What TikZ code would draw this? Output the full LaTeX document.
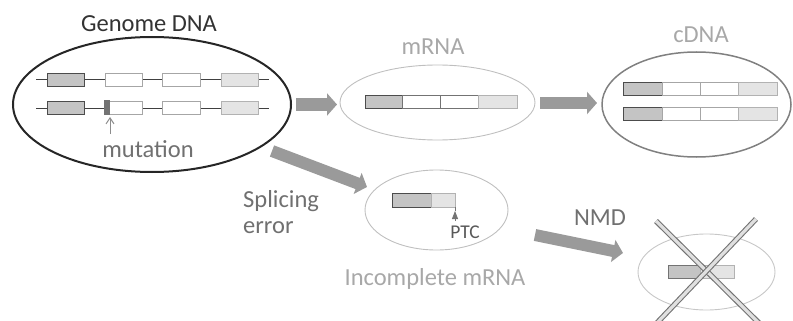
\documentclass[tikz,border=0pt]{standalone}
\usepackage{fontspec}
\setmainfont{Carlito}
\usetikzlibrary{shapes.geometric,arrows.meta}

\definecolor{txtdark}{HTML}{333333}
\definecolor{txtmid}{HTML}{707070}
\definecolor{txtlight}{HTML}{A8A8A8}
\definecolor{arrowgray}{HTML}{9A9A9A}
\definecolor{exonfill}{HTML}{C4C4C4}
\definecolor{exonlast}{HTML}{E4E4E4}

\begin{document}
\begin{tikzpicture}[x=1pt,y=-1pt,
  lbl/.style={font=\fontsize{24.5}{28}\selectfont, inner sep=0, anchor=base},
  oval/.style={ellipse, inner sep=0, outer sep=0},
  blockarr/.style={draw=arrowgray, line width=12pt,
    -{Triangle[length=10pt,width=22pt]}},
  exonA/.style={draw=black!70, fill=exonfill, line width=0.8pt},
  exonB/.style={draw=black!35, fill=white, line width=0.8pt},
  exonC/.style={draw=black!30, fill=exonlast, line width=0.8pt},
  crossline/.style={draw=black!55, line width=1.1pt, double=black!12, double distance=3.2pt}
]
\useasboundingbox (0,0) rectangle (793,321);

% ---- containers ----
\node[oval, draw=black!85, line width=2pt, minimum width=278pt, minimum height=135pt] (genome) at (152,104.5) {};
\node[oval, draw=black!25, line width=0.9pt, minimum width=195pt, minimum height=75pt] (mrna) at (437.5,102.5) {};
\node[oval, draw=black!50, line width=1.5pt, minimum width=189pt, minimum height=105pt] (cdna) at (696.5,104.5) {};
\node[oval, draw=black!25, line width=0.9pt, minimum width=143pt, minimum height=80pt] (inc) at (436.5,210) {};
\node[oval, draw=black!22, line width=0.9pt, minimum width=137pt, minimum height=76pt] (nmd) at (706.5,272) {};

% ---- titles and labels ----
\node[lbl, text=txtdark] (tgenome) at (149,32) {Genome DNA};
\node[lbl, text=txtmid] (tmut) at (148,157) {mutation};
\node[lbl, text=txtlight] (tmrna) at (433,55) {mRNA};
\node[lbl, text=txtlight] (tcdna) at (701,43) {cDNA};
\node[lbl, text=txtmid, anchor=base west] (tsplice) at (243,207) {Splicing};
\node[lbl, text=txtmid, anchor=base west] (terror) at (243,233) {error};
\node[lbl, text=txtlight] (tinc) at (435,285) {Incomplete mRNA};
\node[lbl, text=txtmid] (tnmd) at (600,225) {NMD};
\node[lbl, text=black!65, font=\fontsize{19.5}{22}\selectfont] (tptc) at (465,238) {PTC};

% ---- genomic DNA: two alleles ----
\foreach \y in {80,108} {
  \draw[black!75, line width=1pt] (36,\y) -- (269,\y);
  \draw[exonA] (47,\y-6.5) rectangle (84,\y+6.5);
  \draw[exonB] (105,\y-6.5) rectangle (142,\y+6.5);
  \draw[exonB] (162,\y-6.5) rectangle (200,\y+6.5);
  \draw[exonC] (221,\y-6.5) rectangle (258,\y+6.5);
}
% mutated site
\fill[black!55] (104,100.5) rectangle (110,115);
\coordinate (mutfoot) at (110,134);
\coordinate (muthead) at (110,117);
\draw[black!45, line width=1pt, -{Straight Barb[length=6pt,width=8pt]}] (mutfoot) -- (muthead);

% ---- mature mRNA ----
\draw[exonA] (365,95) rectangle (402,108.5);
\draw[exonB, draw=black!55] (402,95) rectangle (440,108.5);
\draw[exonB, draw=black!55] (440,95) rectangle (478,108.5);
\draw[exonC] (478,95) rectangle (517,108.5);

% ---- cDNA, two copies ----
\foreach \y in {88.5,113.5} {
  \draw[exonA] (623,\y-6.5) rectangle (662,\y+6.5);
  \draw[exonB] (662,\y-6.5) rectangle (700,\y+6.5);
  \draw[exonB] (700,\y-6.5) rectangle (738,\y+6.5);
  \draw[exonC] (738,\y-6.5) rectangle (777,\y+6.5);
}

% ---- incomplete mRNA with premature stop codon ----
\draw[exonA] (392,193) rectangle (431,207);
\draw[exonC] (431,193) rectangle (455,207);
\coordinate (ptcfoot) at (455,221);
\coordinate (ptctip) at (455,211);
\draw[black!55, line width=0.8pt] (455,207) -- (ptctip);
\draw[black!55, line width=0.8pt, -{Triangle[length=8pt,width=6pt]}] (ptcfoot) -- (ptctip);

% ---- degraded transcript ----
\draw[exonA, draw=black!55] (668,265) rectangle (700,278);
\draw[exonC] (700,265) rectangle (734,278);
\draw[crossline] (656,221) -- (761,325);
\draw[crossline] (756,219) -- (655,325);

% ---- process arrows ----
\coordinate (a1s) at (296,104.5);
\coordinate (a1e) at (337,104.5);
\coordinate (a2s) at (540,103);
\coordinate (a2e) at (597,103);
\coordinate (a3s) at (272,151);
\coordinate (a3e) at (367,187);
\coordinate (a4s) at (535,235);
\coordinate (a4e) at (623,253);
\draw[blockarr] (a1s) -- (a1e);
\draw[blockarr] (a2s) -- (a2e);
\draw[blockarr] (a3s) -- (a3e);
\draw[blockarr] (a4s) -- (a4e);
\end{tikzpicture}
\end{document}
